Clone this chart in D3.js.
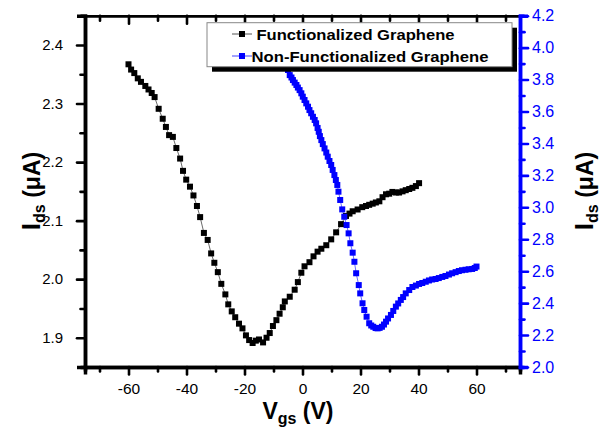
<!DOCTYPE html>
<html><head><meta charset="utf-8">
<script src="https://cdn.jsdelivr.net/npm/d3@7"></script>
<style>
body{margin:0;background:#fff;}
svg{display:block;font-family:"Liberation Sans",Arial,sans-serif;}
</style></head>
<body>
<svg id="chart" width="600" height="427"></svg>
<script>
// ---- data ----
const blackV = [-60.0,-59.1,-58.0,-56.8,-55.7,-54.2,-53.1,-52.0,-51.0,-49.6,-48.2,-47.1,-46.0,-44.7,-43.5,-42.2,-41.2,-40.1,-38.8,-37.6,-36.4,-35.3,-34.0,-32.7,-31.5,-30.4,-29.2,-28.0,-26.6,-25.6,-24.4,-23.2,-21.9,-20.7,-19.5,-18.4,-17.2,-16.1,-15.0,-13.6,-12.4,-11.3,-10.2,-9.0,-7.9,-6.8,-6.1,-4.4,-2.7,-1.6,-0.4,0.7,2.4,3.8,5.2,6.5,8.2,9.9,11.6,13.3,15.0,16.2,17.3,19.0,20.6,21.9,23.0,24.2,25.3,26.5,27.6,28.8,29.9,31.0,32.2,33.3,34.5,35.6,36.8,37.9,39.1,40.2];
const blackI = [2.367,2.358,2.352,2.343,2.337,2.330,2.324,2.318,2.311,2.291,2.274,2.260,2.246,2.243,2.224,2.206,2.185,2.170,2.158,2.143,2.125,2.106,2.079,2.067,2.044,2.028,2.012,1.992,1.974,1.957,1.945,1.935,1.924,1.916,1.904,1.896,1.891,1.895,1.897,1.892,1.900,1.908,1.920,1.930,1.941,1.952,1.962,1.970,1.982,1.995,2.011,2.022,2.029,2.039,2.047,2.052,2.058,2.068,2.080,2.094,2.108,2.112,2.116,2.119,2.123,2.125,2.127,2.129,2.131,2.133,2.140,2.145,2.146,2.149,2.148,2.148,2.150,2.152,2.154,2.156,2.159,2.164];
const blueV = [-5.0,-4.4,-3.8,-3.3,-2.7,-2.1,-1.6,-1.0,-0.4,0.1,0.7,1.3,1.9,2.4,3.0,3.6,4.2,4.7,5.2,5.6,6.0,6.5,7.0,7.6,8.2,8.7,9.3,9.9,10.4,11.0,11.5,12.0,12.4,13.0,13.7,14.4,15.2,15.9,16.5,17.3,17.9,18.5,19.4,19.9,20.7,21.3,22.1,23.0,23.7,24.4,25.2,25.9,26.6,27.4,28.1,28.8,29.5,30.5,31.3,32.2,33.0,33.9,34.7,35.6,36.8,37.9,39.1,40.2,41.3,42.5,43.6,44.7,45.9,47.0,48.2,49.3,50.5,51.6,52.8,53.9,55.0,56.2,57.3,58.5,59.4,60.0];
const blueI = [3.860,3.828,3.813,3.797,3.781,3.766,3.750,3.734,3.714,3.693,3.672,3.651,3.630,3.609,3.589,3.567,3.547,3.526,3.497,3.473,3.446,3.421,3.396,3.369,3.343,3.317,3.290,3.265,3.234,3.202,3.171,3.140,3.098,3.046,2.987,2.941,2.889,2.837,2.775,2.716,2.659,2.587,2.513,2.461,2.399,2.357,2.315,2.274,2.260,2.252,2.244,2.242,2.245,2.252,2.266,2.284,2.304,2.326,2.351,2.378,2.398,2.420,2.438,2.461,2.482,2.501,2.510,2.520,2.526,2.534,2.542,2.548,2.551,2.557,2.564,2.570,2.579,2.587,2.594,2.601,2.606,2.609,2.612,2.614,2.620,2.629];
const xTicks = [-60,-40,-20,0,20,40,60];
const xMinor = [-70,-50,-30,-10,10,30,50,70];
const yLTicks = [1.9,2.0,2.1,2.2,2.3,2.4];
const yLMinor = [1.85,1.95,2.05,2.15,2.25,2.35,2.45];
const yRTicks = [2.0,2.2,2.4,2.6,2.8,3.0,3.2,3.4,3.6,3.8,4.0,4.2];
const yRMinor = [2.1,2.3,2.5,2.7,2.9,3.1,3.3,3.5,3.7,3.9,4.1];
const seriesNames = ["Functionalized Graphene","Non-Functionalized Graphene"];
const seriesColors = ["#000000","#0000ff"];

// ---- layout ----
const L = 85, R = 520, T = 15.7, B = 367;
const svg = d3.select("#chart");
svg.append("rect").attr("width",600).attr("height",427).attr("fill","#fff");

const x = d3.scaleLinear().domain([-75,75]).range([L,R]);
const yL = d3.scaleLinear().domain([1.85,2.45]).range([B,T]);
const yR = d3.scaleLinear().domain([2.0,4.2]).range([B,T]);

function styleAxis(g, color, width){
  g.select(".domain").attr("stroke",color).attr("stroke-width",width);
  g.selectAll(".tick line").attr("stroke",color).attr("stroke-width",2.6).attr("stroke-linecap","round");
  g.selectAll(".tick text").attr("fill",color);
}

const fmt1 = d => d.toFixed(1);
const fmtX = d => String(d);

const blackData = blackV.map((v,i)=>({v, c: blackI[i]}));
const blueData = blueV.map((v,i)=>({v, c: blueI[i]}));

const plot = svg.append("g");
plot.append("path").datum(blackData)
  .attr("fill","none").attr("stroke","#444").attr("stroke-width",0.8)
  .attr("d", d3.line().x(d=>x(d.v)).y(d=>yL(d.c)));
plot.append("path").datum(blueData)
  .attr("fill","none").attr("stroke","#4444ff").attr("stroke-width",0.8)
  .attr("d", d3.line().x(d=>x(d.v)).y(d=>yR(d.c)));
const S = 6;
plot.selectAll("rect.blk").data(blackData).join("rect").attr("class","blk")
  .attr("x",d=>x(d.v)-S/2).attr("y",d=>yL(d.c)-S/2).attr("width",S).attr("height",S).attr("fill",seriesColors[0]);
plot.selectAll("rect.blu").data(blueData).join("rect").attr("class","blu")
  .attr("x",d=>x(d.v)-S/2).attr("y",d=>yR(d.c)-S/2).attr("width",S).attr("height",S).attr("fill",seriesColors[1]);

// axes
const gTopMin = svg.append("g").attr("transform",`translate(0,${T})`)
  .call(d3.axisBottom(x).tickValues(xMinor).tickSize(5).tickFormat(""));
styleAxis(gTopMin,"#000",2.4);
const gTop = svg.append("g").attr("transform",`translate(0,${T})`)
  .call(d3.axisBottom(x).tickValues(xTicks).tickSize(8).tickFormat(""));
styleAxis(gTop,"#000",2.4);
const gBotMin = svg.append("g").attr("transform",`translate(0,${B})`)
  .call(d3.axisBottom(x).tickValues(xMinor).tickSize(4.5).tickFormat(""));
styleAxis(gBotMin,"#000",3.5);
const gBot = svg.append("g").attr("transform",`translate(0,${B})`)
  .call(d3.axisBottom(x).tickValues(xTicks).tickSize(7.5).tickPadding(8).tickFormat(fmtX));
styleAxis(gBot,"#000",3.5);
gBot.selectAll(".tick text").attr("font-size",15.5).attr("font-family","Liberation Sans, Arial, sans-serif");
const gLMin = svg.append("g").attr("transform",`translate(${L},0)`)
  .call(d3.axisLeft(yL).tickValues(yLMinor).tickSize(4.5).tickFormat(""));
styleAxis(gLMin,"#000",3.5);
const gL = svg.append("g").attr("transform",`translate(${L},0)`)
  .call(d3.axisLeft(yL).tickValues(yLTicks).tickSize(8).tickPadding(14).tickFormat(fmt1));
styleAxis(gL,"#000",3.5);
gL.selectAll(".tick text").attr("font-size",15).attr("font-family","Liberation Sans, Arial, sans-serif");
const gRMin = svg.append("g").attr("transform",`translate(${R},0)`)
  .call(d3.axisRight(yR).tickValues(yRMinor).tickSize(4.5).tickFormat(""));
styleAxis(gRMin,"#0000ff",3.5);
const gR = svg.append("g").attr("transform",`translate(${R},0)`)
  .call(d3.axisRight(yR).tickValues(yRTicks).tickSize(8).tickPadding(4).tickFormat(fmt1));
styleAxis(gR,"#0000ff",3.5);
gR.selectAll(".tick text").attr("font-size",16).attr("font-family","Liberation Sans, Arial, sans-serif");

// axis titles
const xt = svg.append("text").attr("x",298).attr("y",419).attr("text-anchor","middle")
  .attr("font-weight","bold").attr("font-size",23).attr("fill","#000");
xt.append("tspan").text("V");
xt.append("tspan").attr("font-size",16).attr("dy",5).text("gs");
xt.append("tspan").attr("dy",-5).text(" (V)");

function yTitle(cx){
  const t = svg.append("text").attr("transform",`translate(${cx},191) rotate(-90)`)
    .attr("text-anchor","middle").attr("font-weight","bold").attr("font-size",23).attr("fill","#000");
  t.append("tspan").attr("font-size",26).text("I");
  t.append("tspan").attr("font-size",16).attr("dy",5).text("ds");
  t.append("tspan").attr("dy",-5).text(" (\u03bcA)");
}
yTitle(40);
yTitle(593);

// legend
const lg = svg.append("g");
const lx = 207, ly = 22.7, lw = 305, lh = 44;
lg.append("rect").attr("x",lx+5).attr("y",ly+5).attr("width",lw).attr("height",lh).attr("fill","#000");
lg.append("rect").attr("x",lx).attr("y",ly).attr("width",lw).attr("height",lh).attr("fill","#fff").attr("stroke","#888").attr("stroke-width",1);
const rows = [{y:34, sx:232, tx:256.5, w:198},{y:56, sx:232, tx:251.5, w:237}];
rows.forEach((r,i)=>{
  lg.append("line").attr("x1",r.sx).attr("x2",r.sx+20).attr("y1",r.y).attr("y2",r.y)
    .attr("stroke", i===0?"#555":"#4444ff").attr("stroke-width",1);
  lg.append("rect").attr("x",r.sx+10-3).attr("y",r.y-3).attr("width",6).attr("height",6).attr("fill",seriesColors[i]);
  lg.append("text").attr("x",r.tx).attr("y",r.y+5.5).attr("font-weight","bold").attr("font-size",15.5)
    .attr("textLength",r.w).attr("lengthAdjust","spacingAndGlyphs")
    .attr("fill","#000").text(seriesNames[i]);
});
</script>
</body></html>
